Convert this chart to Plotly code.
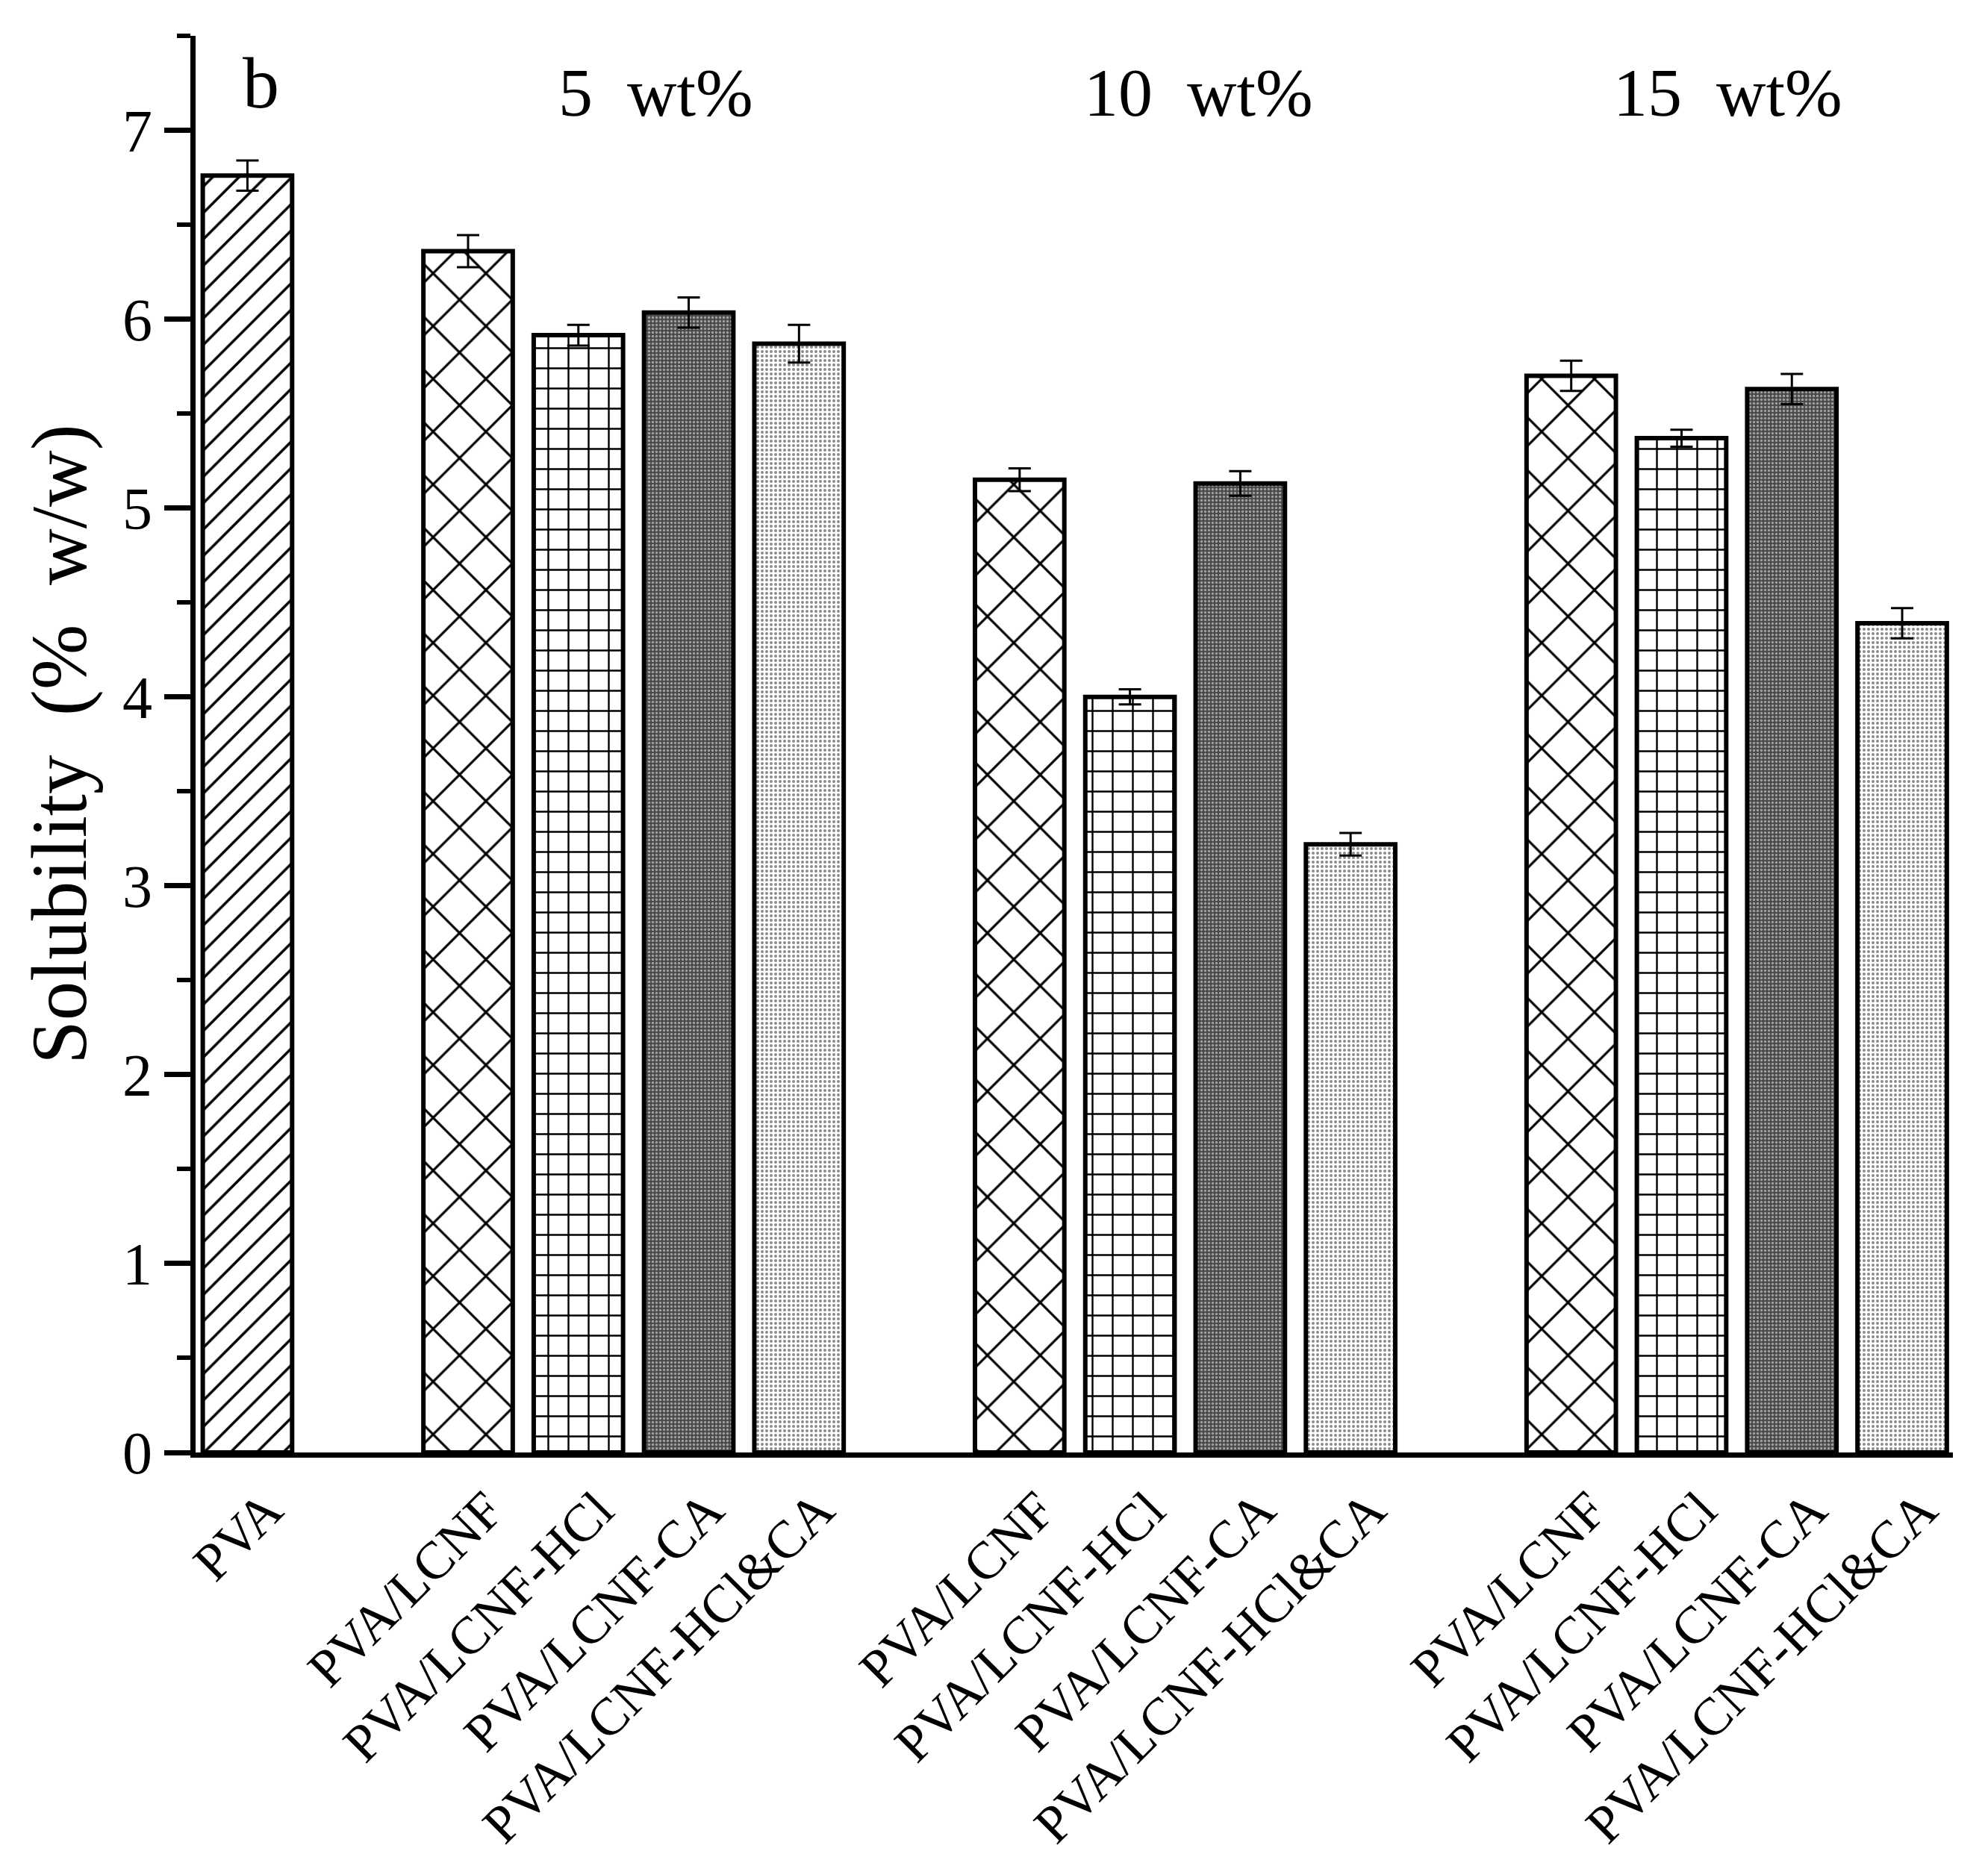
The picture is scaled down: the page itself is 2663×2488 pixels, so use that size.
import plotly.graph_objects as go

# solubility (% w/w)
loadings = ["5 wt%", "10 wt%", "15 wt%"]
samples = ["PVA/LCNF", "PVA/LCNF-HCl", "PVA/LCNF-CA", "PVA/LCNF-HCl&CA"]

pva_value = 6.76
pva_err = 0.08

sol_5 = [6.36, 5.915, 6.035, 5.87]
err_5 = [0.085, 0.055, 0.08, 0.10]
sol_10 = [5.15, 4.00, 5.13, 3.22]
err_10 = [0.06, 0.04, 0.065, 0.06]
sol_15 = [5.70, 5.37, 5.63, 4.39]
err_15 = [0.08, 0.045, 0.08, 0.08]

values = [sol_5, sol_10, sol_15]
errors = [err_5, err_10, err_15]

SERIF = "Liberation Serif"

# PVA alone, then one empty slot before each loading group
def slot(g, i):
    return 2 + 5 * g + i

patterns = [
    dict(shape="x", size=50, solidity=0.12, fgcolor="black", bgcolor="white", fgopacity=1),
    dict(shape="+", size=27, solidity=0.17, fgcolor="black", bgcolor="white", fgopacity=1),
    dict(shape=".", size=5, solidity=0.35, fgcolor="#a0a0a0", bgcolor="#4a4a4a", fgopacity=1),
    dict(shape=".", size=6, solidity=0.35, fgcolor="#8c8c8c", bgcolor="white", fgopacity=1),
]
label_shift = [0.2, 0.12, -0.08]  # group label offset from group centre

fig = go.Figure()

fig.add_trace(go.Bar(
    x=[0], y=[pva_value],
    width=0.81,
    marker=dict(color="white", line=dict(color="black", width=6),
                pattern=dict(shape="/", size=25, solidity=0.14, fgcolor="black",
                             bgcolor="white", fgopacity=1)),
    error_y=dict(type="data", array=[pva_err], color="black", thickness=3, width=15),
    showlegend=False,
))

for i, name in enumerate(samples):
    fig.add_trace(go.Bar(
        x=[slot(g, i) for g in range(len(loadings))],
        y=[values[g][i] for g in range(len(loadings))],
        width=0.81,
        name=name,
        marker=dict(color=patterns[i]["bgcolor"], line=dict(color="black", width=6),
                    pattern=patterns[i]),
        error_y=dict(type="data", array=[errors[g][i] for g in range(len(loadings))],
                     color="black", thickness=3, width=15),
        showlegend=False,
    ))

tickvals = [0] + [slot(g, i) for g in range(len(loadings)) for i in range(len(samples))]
ticktext = ["PVA"] + samples * len(loadings)

fig.add_annotation(x=0.12, y=7.25, text="b", showarrow=False,
                   font=dict(family=SERIF, size=98, color="black"))
for g, lab in enumerate(loadings):
    fig.add_annotation(x=slot(g, 1.5) + label_shift[g], y=7.2,
                       text=lab.replace(" ", "\u00a0\u00a0"), showarrow=False,
                       font=dict(family=SERIF, size=92, color="black"))

fig.update_layout(
    width=2663, height=2488,
    margin=dict(l=254, r=55, t=40, b=540),
    plot_bgcolor="white", paper_bgcolor="white",
    barmode="overlay",
    font=dict(family=SERIF, color="black"),
)
fig.update_xaxes(
    range=[-0.47, 15.46],
    tickvals=tickvals, ticktext=ticktext, tickangle=-45,
    tickfont=dict(family=SERIF, size=71, color="black"),
    ticklabelshift=26,
    ticks="", showgrid=False, zeroline=False,
    showline=True, linecolor="black", linewidth=7,
)
fig.update_yaxes(
    range=[0, 7.5], dtick=1, tick0=0,
    ticks="outside", ticklen=35, tickwidth=7, tickcolor="black",
    minor=dict(dtick=0.5, ticks="outside", ticklen=18, tickwidth=6, tickcolor="black"),
    tickfont=dict(family=SERIF, size=80, color="black"),
    showgrid=False, zeroline=False,
    showline=True, linecolor="black", linewidth=7,
    title=dict(text="Solubility\u00a0\u00a0(%\u00a0\u00a0w/w)", standoff=16,
               font=dict(family=SERIF, size=105, color="black")),
)

fig.write_html("out.html")
